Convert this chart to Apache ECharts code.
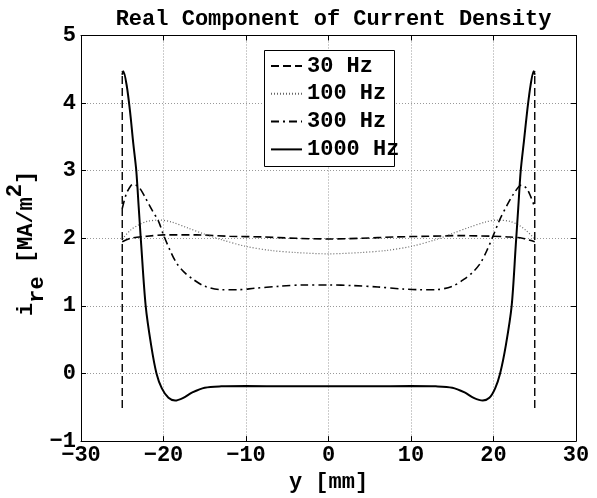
<!DOCTYPE html>
<html>
<head>
<meta charset="utf-8">
<script src="https://cdn.jsdelivr.net/npm/echarts@6/dist/echarts.min.js"></script>
<style>
html,body{margin:0;padding:0;background:#fff;}
#chart{width:597px;height:498px;}
</style>
</head>
<body>
<div id="chart"></div>
<script>
// ---- data ----
const seriesNames = ['30 Hz', '100 Hz', '300 Hz', '1000 Hz'];

const x30 = [-25, -24, -22, -20, -16, -12, -8, -4, 0, 4, 8, 12, 16, 20, 22, 23.5, 25];
const y30 = [1.95, 2.00, 2.03, 2.05, 2.05, 2.03, 2.02, 2.00, 1.99, 2.00, 2.02, 2.03, 2.04, 2.03, 2.02, 2.00, 1.95];

const x100 = [-25, -24, -23, -22, -20.5, -19, -17, -15, -13, -10, -7, -4, 0, 4, 7, 10, 13, 15, 17, 19, 20.5, 22, 23, 24, 25];
const y100 = [1.99, 2.12, 2.20, 2.25, 2.27, 2.24, 2.15, 2.06, 1.98, 1.88, 1.82, 1.79, 1.77, 1.79, 1.82, 1.88, 1.98, 2.07, 2.16, 2.24, 2.27, 2.25, 2.20, 2.11, 1.99];

const x300 = [-25, -24.5, -24, -23.7, -23, -22.2, -21.4, -20.6, -20, -19.2, -18.4, -17.5, -16.5, -15, -13, -11, -9, -6, -3, 0, 3, 6, 9, 11, 13, 15, 16.5, 17.5, 18.4, 19.2, 20, 20.7, 21.6, 22.4, 23.4, 24, 24.5, 25];
const y300 = [2.44, 2.66, 2.77, 2.80, 2.76, 2.60, 2.42, 2.25, 2.05, 1.82, 1.63, 1.50, 1.40, 1.29, 1.24, 1.24, 1.26, 1.29, 1.31, 1.31, 1.30, 1.28, 1.25, 1.24, 1.24, 1.29, 1.40, 1.50, 1.63, 1.82, 2.05, 2.26, 2.48, 2.65, 2.79, 2.74, 2.62, 2.46];

const x1000 = [-25, -24.87, -24.46, -24.06, -23.66, -23.3, -23.0, -22.7, -22.16, -21.5, -20.85, -20.2, -19.4, -18.6, -17.6, -16.5, -15, -13, -10, -5, 0, 5, 10, 13, 15, 16.5, 17.6, 18.7, 19.5, 20.2, 20.8, 21.5, 22.2, 22.7, 23.0, 23.3, 23.7, 24.1, 24.5, 24.87, 25];
const y1000 = [4.42, 4.47, 4.26, 3.88, 3.40, 3.00, 2.45, 1.90, 1.00, 0.42, 0.00, -0.22, -0.36, -0.40, -0.36, -0.28, -0.21, -0.19, -0.185, -0.19, -0.19, -0.19, -0.185, -0.19, -0.21, -0.28, -0.36, -0.40, -0.36, -0.22, 0.00, 0.42, 1.00, 1.90, 2.45, 3.00, 3.45, 3.90, 4.27, 4.47, 4.42];

// conductor edge markers (dashed verticals)
const edgeLeftX = [-25, -25];
const edgeRightX = [25, 25];
const edgeY = [-0.51, 4.47];

const xTicks = [-30, -20, -10, 0, 10, 20, 30];
const yTicks = [-1, 0, 1, 2, 3, 4, 5];

const titleText = 'Real Component of Current Density';
const xName = 'y [mm]';

// ---- build ----
const zip = (xs, ys) => xs.map((x, i) => [x, ys[i]]);
const FONT = 'Liberation Mono';
const FS = 22;

const chart = echarts.init(document.getElementById('chart'), null, {renderer: 'canvas'});

const lineBase = {type: 'line', showSymbol: false, symbol: 'none', animation: false, z: 2};
const tfont = 'bold 22px "Liberation Mono"';
const txt = (text, x, y) => ({type: 'text', x: x, y: y, style: {text: text, font: tfont, fill: '#000', textAlign: 'left', textVerticalAlign: 'middle', align: 'left', verticalAlign: 'middle'}});

const option = {
  animation: false,
  backgroundColor: '#fff',
  title: {
    text: titleText,
    left: 328.5,
    textAlign: 'center',
    top: 3,
    textStyle: {fontFamily: FONT, fontWeight: 'bold', fontSize: FS, color: '#000'}
  },
  grid: {left: 81, right: 21, top: 35.5, bottom: 45.5, show: false},
  legend: {
    data: seriesNames,
    orient: 'vertical',
    left: 264,
    top: 50,
    padding: [5, 0, 6, 6],
    itemWidth: 31,
    itemHeight: 14,
    itemGap: 5.8,
    itemStyle: {opacity: 0},
    textStyle: {fontFamily: FONT, fontWeight: 'bold', fontSize: FS, color: '#000', lineHeight: 22},
    z: 10
  },
  xAxis: [{
    type: 'value', min: -30, max: 30, interval: 10,
    name: xName, nameLocation: 'middle', nameGap: 20,
    nameTextStyle: {fontFamily: FONT, fontWeight: 'bold', fontSize: FS, color: '#000'},
    axisLine: {show: true, onZero: false, lineStyle: {color: '#000', width: 1}},
    axisTick: {show: true, inside: true, length: 5, lineStyle: {color: '#000'}},
    axisLabel: {margin: 3, fontFamily: FONT, fontWeight: 'bold', fontSize: FS, color: '#000',
      formatter: v => (xTicks.indexOf(v) >= 0 ? String(v).replace('-', '\u2212') : '')},
    splitLine: {show: true, lineStyle: {color: '#999', type: [1, 2], width: 1}}
  }, {
    type: 'value', min: -30, max: 30, interval: 10, position: 'top',
    axisLine: {show: true, onZero: false, lineStyle: {color: '#000', width: 1}},
    axisTick: {show: true, inside: true, length: 5, lineStyle: {color: '#000'}},
    axisLabel: {show: false}, splitLine: {show: false}
  }],
  yAxis: [{
    type: 'value', min: -1, max: 5, interval: 1,
    axisLine: {show: true, onZero: false, lineStyle: {color: '#000', width: 1}},
    axisTick: {show: true, inside: true, length: 5, lineStyle: {color: '#000'}},
    axisLabel: {margin: 5, fontFamily: FONT, fontWeight: 'bold', fontSize: FS, color: '#000',
      formatter: v => (yTicks.indexOf(v) >= 0 ? String(v).replace('-', '\u2212') : '')},
    splitLine: {show: true, lineStyle: {color: '#999', type: [1, 2], width: 1}}
  }, {
    type: 'value', min: -1, max: 5, interval: 1, position: 'right',
    axisLine: {show: true, onZero: false, lineStyle: {color: '#000', width: 1}},
    axisTick: {show: true, inside: true, length: 5, lineStyle: {color: '#000'}},
    axisLabel: {show: false}, splitLine: {show: false}
  }],
  graphic: [
    {
      type: 'rect', left: 264, top: 50, z: 5,
      shape: {x: 0, y: 0, width: 130, height: 116},
      style: {fill: '#fff', stroke: '#000', lineWidth: 1}
    },
    {
      type: 'group', x: 26, y: 316, rotation: Math.PI / 2, z: 5,
      children: [
        txt('i', 0, 0),
        txt('re', 13.2, 11),
        txt('[MA/m', 52.8, 0),
        txt('2', 118.8, -11),
        txt(']', 132, 0)
      ]
    }
  ],
  series: [
    Object.assign({}, lineBase, {name: '30 Hz', data: zip(x30, y30), smooth: 0.3,
      lineStyle: {color: '#000', width: 1.6, type: [8, 4]}, itemStyle: {color: '#000'}}),
    Object.assign({}, lineBase, {name: '100 Hz', data: zip(x100, y100), smooth: 0.3,
      lineStyle: {color: '#666', width: 1.2, type: [1, 2]}, itemStyle: {color: '#666'}}),
    Object.assign({}, lineBase, {name: '300 Hz', data: zip(x300, y300), smooth: 0.3,
      lineStyle: {color: '#000', width: 1.6, type: [8, 4, 2, 4]}, itemStyle: {color: '#000'}}),
    Object.assign({}, lineBase, {name: '1000 Hz', data: zip(x1000, y1000), smooth: 0.3,
      lineStyle: {color: '#000', width: 2, type: 'solid'}, itemStyle: {color: '#000'}}),
    Object.assign({}, lineBase, {name: 'edgeL', data: zip(edgeLeftX, edgeY),
      lineStyle: {color: '#000', width: 1.4, type: [8, 4]}, itemStyle: {color: '#000'}}),
    Object.assign({}, lineBase, {name: 'edgeR', data: zip(edgeRightX, edgeY),
      lineStyle: {color: '#000', width: 1.4, type: [8, 4]}, itemStyle: {color: '#000'}})
  ]
};
chart.setOption(option);
</script>
</body>
</html>
